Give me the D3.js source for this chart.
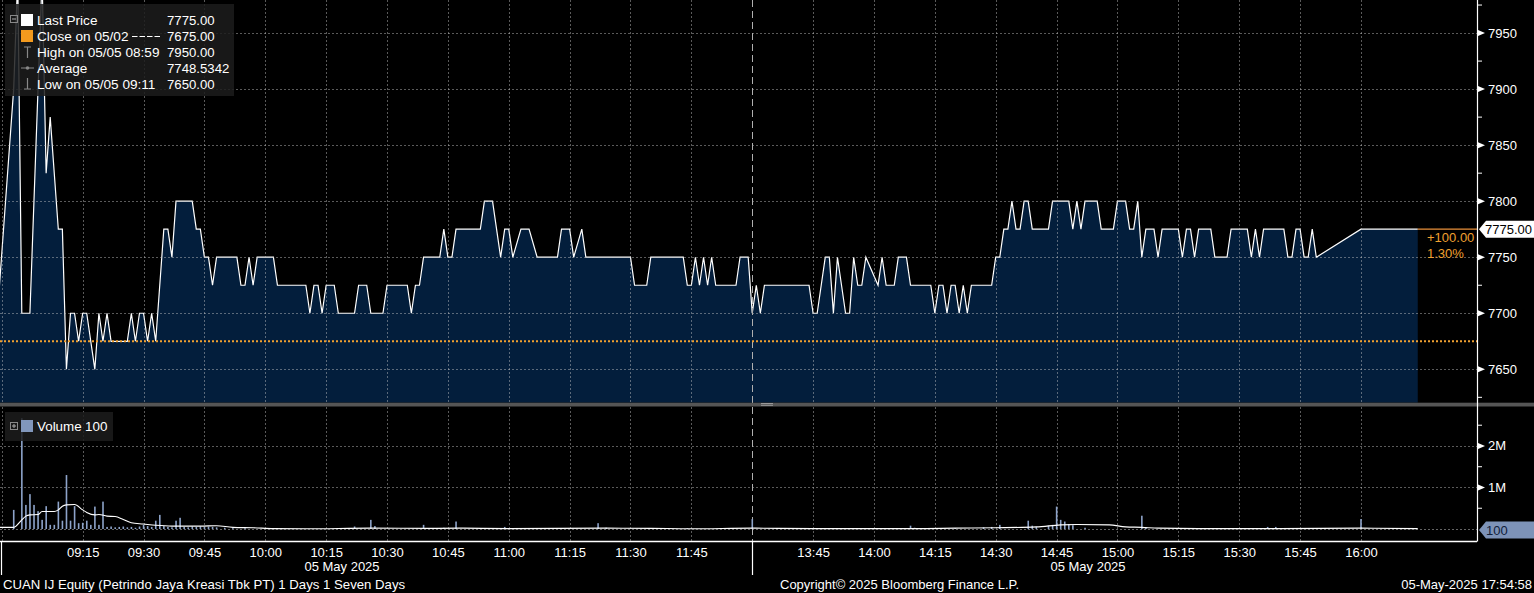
<!DOCTYPE html>
<html><head><meta charset="utf-8">
<script src="https://cdn.jsdelivr.net/npm/d3@7"></script>
<style>
html,body{margin:0;padding:0;background:#000;overflow:hidden}
svg{display:block}
text{font-family:"Liberation Sans",Arial,sans-serif;font-size:13px}
</style></head><body>
<svg id="c" width="1534" height="593"></svg>
<script>
// ---------------- DATA ----------------
// Price per minute (time, last price) - morning session
const priceAM = [
 ["08:54",7700],["08:58",7900],["08:59",8000],["09:00",7700],["09:01",7700],["09:02",7700],
 ["09:05",8000],["09:06",7825],["09:07",7875],["09:09",7775],["09:10",7775],["09:11",7650],
 ["09:12",7700],["09:13",7700],["09:14",7675],["09:15",7700],["09:16",7700],["09:18",7650],
 ["09:19",7700],["09:20",7675],["09:21",7700],["09:22",7675],["09:26",7675],["09:27",7700],
 ["09:28",7675],["09:29",7700],["09:30",7700],["09:31",7675],["09:32",7700],["09:33",7675],
 ["09:35",7775],["09:36",7775],["09:37",7750],["09:38",7800],["09:42",7800],["09:43",7775],
 ["09:44",7775],["09:45",7750],["09:46",7750],["09:47",7725],["09:48",7750],["09:53",7750],
 ["09:54",7725],["09:55",7725],["09:56",7750],["09:57",7725],["09:58",7750],["10:02",7750],
 ["10:03",7725],["10:10",7725],["10:11",7700],["10:12",7725],["10:13",7725],["10:14",7700],
 ["10:15",7725],["10:17",7725],["10:18",7700],["10:22",7700],["10:23",7725],["10:25",7725],
 ["10:26",7700],["10:29",7700],["10:30",7725],["10:35",7725],["10:36",7700],["10:37",7725],
 ["10:38",7725],["10:39",7750],["10:43",7750],["10:44",7775],["10:45",7750],["10:46",7750],
 ["10:47",7775],["10:53",7775],["10:54",7800],["10:56",7800],["10:58",7750],["10:59",7775],
 ["11:00",7775],["11:01",7750],["11:03",7775],["11:05",7775],["11:07",7750],["11:12",7750],
 ["11:13",7775],["11:15",7775],["11:16",7750],["11:18",7775],["11:19",7750],["11:30",7750],
 ["11:31",7725],["11:34",7725],["11:35",7750],["11:43",7750],["11:44",7725],["11:45",7725],
 ["11:46",7750],["11:47",7725],["11:48",7750],["11:49",7725],["11:50",7750],["11:51",7725],
 ["11:56",7725],["11:57",7750],["11:59",7750]
];
// afternoon session
const pricePM = [
 ["13:30",7700],["13:31",7725],["13:32",7700],["13:33",7725],["13:44",7725],["13:45",7700],
 ["13:46",7700],["13:48",7750],["13:49",7750],["13:50",7700],["13:51",7750],["13:53",7700],
 ["13:54",7700],["13:55",7750],["13:56",7725],["13:57",7725],["13:58",7750],["14:01",7725],
 ["14:02",7750],["14:03",7725],["14:05",7725],["14:06",7750],["14:08",7750],["14:09",7725],
 ["14:14",7725],["14:15",7700],["14:16",7725],["14:17",7725],["14:18",7700],["14:19",7725],
 ["14:20",7725],["14:21",7700],["14:22",7725],["14:23",7700],["14:24",7725],["14:25",7725],
 ["14:29",7725],["14:30",7750],["14:31",7750],["14:32",7775],["14:33",7775],["14:34",7800],
 ["14:35",7775],["14:36",7775],["14:37",7800],["14:38",7800],["14:39",7775],["14:43",7775],
 ["14:44",7800],["14:48",7800],["14:49",7775],["14:50",7800],["14:51",7775],["14:52",7800],
 ["14:55",7800],["14:56",7775],["14:59",7775],["15:00",7800],["15:02",7800],["15:03",7775],
 ["15:04",7775],["15:05",7800],["15:06",7750],["15:07",7775],["15:09",7775],["15:10",7750],
 ["15:11",7775],["15:15",7775],["15:16",7750],["15:17",7775],["15:18",7775],["15:19",7750],
 ["15:20",7775],["15:23",7775],["15:24",7750],["15:27",7750],["15:28",7775],["15:32",7775],
 ["15:33",7750],["15:34",7775],["15:35",7750],["15:36",7775],["15:41",7775],["15:42",7750],
 ["15:43",7750],["15:44",7775],["15:45",7775],["15:46",7750],["15:47",7750],["15:48",7775],
 ["15:49",7750],["16:00",7775],["16:14",7775]
];

const closePrev = 7675;
const lastPrice = 7775;
const priceTicks = [7650,7700,7750,7800,7850,7900,7950];
const priceMinorTicks = [7625,7725,7825,7875,7925,7975];

// Volume bars (time, shares)
const volumeBars = [
 ["08:58",460000],["09:00",2670000],["09:01",580000],["09:02",840000],["09:03",580000],["09:04",430000],
 ["09:05",220000],["09:06",550000],["09:07",100000],["09:08",100000],["09:09",660000],["09:10",200000],
 ["09:11",1300000],["09:12",200000],["09:13",550000],["09:14",140000],["09:15",150000],["09:16",200000],
 ["09:17",100000],["09:18",540000],["09:19",100000],["09:20",660000],["09:21",50000],["09:22",60000],
 ["09:23",40000],["09:24",50000],["09:25",60000],["09:26",40000],["09:27",50000],["09:28",30000],
 ["09:29",60000],["09:30",100000],["09:31",70000],["09:32",50000],["09:33",200000],["09:34",340000],
 ["09:35",70000],["09:36",50000],["09:37",40000],["09:38",200000],["09:39",270000],["09:40",50000],
 ["09:41",40000],["09:42",60000],["09:43",50000],["09:44",60000],["09:45",50000],["09:46",60000],
 ["09:47",50000],["09:48",40000],["09:50",30000],["09:52",20000],["09:55",20000],["10:02",20000],
 ["10:04",20000],["10:22",60000],["10:26",220000],["10:27",70000],["10:39",100000],["10:44",30000],
 ["10:47",180000],["10:59",50000],["11:22",140000],["11:24",30000],["11:44",20000],["13:30",240000],
 ["14:09",80000],["14:10",30000],["14:20",20000],["14:27",40000],["14:29",50000],["14:31",100000],
 ["14:38",200000],["14:39",80000],["14:40",50000],["14:43",80000],["14:44",100000],["14:45",540000],
 ["14:46",220000],["14:47",180000],["14:48",120000],["14:49",90000],["14:52",30000],["15:06",320000],
 ["15:07",40000],["15:37",50000],["15:39",50000],["16:00",240000]
];
// Volume moving average line (time, shares)
const volumeAvg = [
 ["08:54",40000],["08:58",40000],["09:00",220000],["09:01",310000],["09:02",340000],["09:04",350000],
 ["09:05",420000],["09:08",420000],["09:09",460000],["09:10",550000],["09:11",580000],["09:13",590000],
 ["09:15",460000],["09:16",400000],["09:18",340000],["09:19",350000],["09:21",310000],["09:23",300000],
 ["09:25",230000],["09:27",150000],["09:30",120000],["09:33",90000],["09:37",70000],["09:44",70000],
 ["09:48",80000],["09:52",40000],["09:57",30000],["10:02",10000],["10:10",5000],["10:26",20000],
 ["10:40",15000],["10:48",20000],["11:00",10000],["11:24",20000],["11:35",15000],["11:45",5000],
 ["13:30",20000],["13:45",10000],["14:10",10000],["14:20",20000],["14:30",30000],["14:40",50000],
 ["14:46",100000],["14:50",110000],["14:58",100000],["15:02",50000],["15:06",40000],["15:10",20000],
 ["15:20",10000],["15:40",10000],["16:00",20000],["16:14",10000]
];
const lastVolume = 100;
const volTicks = [1000000,2000000];
const volTickLabels = ["1M","2M"];
const volMinorTicks = [500000,1500000,2500000];

const xTickTimes = ["09:15","09:30","09:45","10:00","10:15","10:30","10:45","11:00","11:15","11:30","11:45","13:45","14:00","14:15","14:30","14:45","15:00","15:15","15:30","15:45","16:00"];
const breakTime = "13:30";

const legendLabels = ["Last Price","Close on 05/02","High on 05/05 08:59","Average","Low on 05/05 09:11"];
const legendValues = ["7775.00","7675.00","7950.00","7748.5342","7650.00"];
const changeText = ["+100.00","1.30%"];
const footerLeft = "CUAN IJ Equity (Petrindo Jaya Kreasi Tbk PT) 1 Days 1 Seven Days";
const footerMid = "Copyright\u00A9 2025 Bloomberg Finance L.P.";
const footerRight = "05-May-2025 17:54:58";
const dateLabel = "05 May 2025";

// ---------------- HELPERS ----------------
function sessionMin(s){
  const [h,m] = s.split(":").map(Number);
  const tm = h*60+m - 540;
  return (h*60+m) >= 810 ? tm - 90 : tm;   // afternoon session joined to morning
}
const W = 1534, H = 593;
const axisX = 1477;
const pTop = 0, pBot = 402.7;
const vTop = 407, vBot = 541.5;

const x = d3.scaleLinear().domain([-5.37, 358.6]).range([0, axisX]);
const y = d3.scaleLinear().domain([7620.2, 7979.5]).range([pBot, pTop]);
const yv = d3.scaleLinear().domain([0, 2.9e6]).range([529, 408.6]);

const svg = d3.select("#c");
svg.append("rect").attr("width",W).attr("height",H).attr("fill","#000");

const defs = svg.append("defs");
defs.append("clipPath").attr("id","pclip").append("rect").attr("x",0).attr("y",pTop).attr("width",axisX).attr("height",pBot-pTop);
defs.append("clipPath").attr("id","vclip").append("rect").attr("x",0).attr("y",vTop).attr("width",axisX).attr("height",vBot-vTop-1);

const price = priceAM.concat(pricePM).map(d=>({t:sessionMin(d[0]), v:d[1]}));

// area
const gP = svg.append("g").attr("clip-path","url(#pclip)");
gP.append("path").datum(price)
  .attr("d", d3.area().x(d=>x(d.t)).y0(pBot).y1(d=>y(d.v)))
  .attr("fill","#031e3c");

// grid
const gridCol = "rgba(200,200,200,0.45)";
const grid = svg.append("g");
priceTicks.forEach(v=>{
  grid.append("line").attr("x1",0).attr("x2",axisX).attr("y1",Math.round(y(v))+0.5).attr("y2",Math.round(y(v))+0.5)
    .attr("stroke",gridCol).attr("stroke-width",1).attr("stroke-dasharray","2,2");
});
volTicks.forEach(v=>{
  grid.append("line").attr("x1",0).attr("x2",axisX).attr("y1",Math.round(yv(v))+0.5).attr("y2",Math.round(yv(v))+0.5)
    .attr("stroke",gridCol).attr("stroke-width",1).attr("stroke-dasharray","2,2");
});
const vlines = xTickTimes.map(sessionMin).concat([-5]);
vlines.forEach(t=>{
  [[pTop,pBot],[vTop,vBot]].forEach(([a,b])=>{
    grid.append("line").attr("x1",Math.round(x(t))+0.5).attr("x2",Math.round(x(t))+0.5).attr("y1",a).attr("y2",b)
      .attr("stroke",gridCol).attr("stroke-width",1).attr("stroke-dasharray","2,2");
  });
});
// session break
const bx = Math.round(x(sessionMin(breakTime)))+0.5;
svg.append("line").attr("x1",bx).attr("x2",bx).attr("y1",0).attr("y2",vBot)
  .attr("stroke","#b0b0b0").attr("stroke-width",1).attr("stroke-dasharray","7,4");

// close line
svg.append("line").attr("x1",0).attr("x2",axisX).attr("y1",y(closePrev)).attr("y2",y(closePrev))
  .attr("stroke","#f0a030").attr("stroke-width",2).attr("stroke-dasharray","2,2");

// price line
gP.append("path").datum(price)
  .attr("d", d3.line().x(d=>x(d.t)).y(d=>y(d.v)))
  .attr("fill","none").attr("stroke","#ffffff").attr("stroke-width",1.2).attr("stroke-linejoin","miter");

// last price extension (orange)
const lastT = price[price.length-1].t;
svg.append("line").attr("x1",x(lastT)).attr("x2",axisX).attr("y1",y(lastPrice)).attr("y2",y(lastPrice))
  .attr("stroke","#e8903a").attr("stroke-width",1.2);

// separator band
svg.append("rect").attr("x",0).attr("y",402.7).attr("width",W).attr("height",3.8).attr("fill","#555");
svg.append("line").attr("x1",761).attr("x2",773).attr("y1",403.5).attr("y2",403.5).attr("stroke","#aaa").attr("stroke-width",0.8);
svg.append("line").attr("x1",761).attr("x2",773).attr("y1",405.3).attr("y2",405.3).attr("stroke","#aaa").attr("stroke-width",0.8);

// volume
const gV = svg.append("g").attr("clip-path","url(#vclip)");
const vols = volumeBars.map(d=>({t:sessionMin(d[0]), v:d[1]}));
gV.selectAll("rect.vb").data(vols).enter().append("rect")
  .attr("x",d=>x(d.t)-0.75).attr("width",1.6)
  .attr("y",d=>yv(d.v)).attr("height",d=>yv(0)-yv(d.v))
  .attr("fill","#8da3c9");
svg.append("line").attr("x1",0).attr("x2",axisX).attr("y1",yv(0)+0.5).attr("y2",yv(0)+0.5)
  .attr("stroke","rgba(200,200,200,0.5)").attr("stroke-dasharray","2,2");
const ma = volumeAvg.map(d=>({t:sessionMin(d[0]), v:d[1]}));
gV.append("path").datum(ma)
  .attr("d", d3.line().x(d=>x(d.t)).y(d=>yv(d.v)).curve(d3.curveMonotoneX))
  .attr("fill","none").attr("stroke","#ffffff").attr("stroke-width",1.1);

// right axis
svg.append("line").attr("x1",axisX+0.5).attr("x2",axisX+0.5).attr("y1",0).attr("y2",vBot)
  .attr("stroke","#fff").attr("stroke-width",1.2);
const ra = svg.append("g");
priceTicks.forEach(v=>{
  const yy = y(v);
  ra.append("path").attr("d",`M${axisX+1},${yy-3}L${axisX+8},${yy}L${axisX+1},${yy+3}Z`).attr("fill","#fff");
  ra.append("text").attr("x",axisX+11).attr("y",yy+4.5).attr("fill","#fff").text(v);
});
priceMinorTicks.forEach(v=>{
  ra.append("line").attr("x1",axisX+1).attr("x2",axisX+5).attr("y1",y(v)).attr("y2",y(v)).attr("stroke","#fff");
});
volTicks.forEach((v,i)=>{
  const yy = yv(v);
  ra.append("path").attr("d",`M${axisX+1},${yy-3}L${axisX+8},${yy}L${axisX+1},${yy+3}Z`).attr("fill","#fff");
  ra.append("text").attr("x",axisX+11).attr("y",yy+4.5).attr("fill","#fff").text(volTickLabels[i]);
});
volMinorTicks.forEach(v=>{
  ra.append("line").attr("x1",axisX+1).attr("x2",axisX+5).attr("y1",yv(v)).attr("y2",yv(v)).attr("stroke","#fff");
});

// last price tag
const ly = y(lastPrice);
ra.append("path").attr("d",`M${axisX+2},${ly}L${axisX+9},${ly-8.5}L${W},${ly-8.5}L${W},${ly+8.5}L${axisX+9},${ly+8.5}Z`).attr("fill","#fff");
ra.append("text").attr("x",axisX+8).attr("y",ly+5).attr("fill","#000").text(lastPrice.toFixed(2));
ra.append("text").attr("x",1427).attr("y",y(lastPrice)+13).attr("fill","#f0a030").text(changeText[0]);
ra.append("text").attr("x",1427).attr("y",y(lastPrice)+28.5).attr("fill","#f0a030").text(changeText[1]);

// last volume tag
const lvy = yv(lastVolume)+1;
ra.append("path").attr("d",`M${axisX+2},${lvy}L${axisX+9},${lvy-8.5}L${W},${lvy-8.5}L${W},${lvy+8.5}L${axisX+9},${lvy+8.5}Z`).attr("fill","#7d93b8");
ra.append("text").attr("x",axisX+9).attr("y",lvy+5).attr("fill","#10203a").text(lastVolume);

// bottom axis
svg.append("line").attr("x1",0).attr("x2",axisX).attr("y1",vBot).attr("y2",vBot).attr("stroke","#fff").attr("stroke-width",1.5);
svg.append("line").attr("x1",1.5).attr("x2",1.5).attr("y1",vBot).attr("y2",575).attr("stroke","#fff").attr("stroke-width",1.2);
svg.append("line").attr("x1",bx).attr("x2",bx).attr("y1",vBot).attr("y2",575).attr("stroke","#fff").attr("stroke-width",1.2);

const xAxis = d3.axisBottom(x).tickValues(xTickTimes.map(sessionMin))
  .tickFormat((d,i)=>xTickTimes[i]).tickSize(0).tickPadding(0);
const gx = svg.append("g").attr("transform",`translate(0,${vBot})`).call(xAxis);
gx.select(".domain").remove();
gx.selectAll("text").attr("fill","#fff").attr("dy",0).attr("y",15).style("font-size","13px").style("font-family","'Liberation Sans',Arial,sans-serif");

svg.append("text").attr("x",342).attr("y",571).attr("text-anchor","middle").attr("fill","#fff").text(dateLabel);
svg.append("text").attr("x",1088).attr("y",571).attr("text-anchor","middle").attr("fill","#fff").text(dateLabel);

svg.append("text").attr("x",3).attr("y",589).attr("fill","#fff").style("font-size","13.2px").text(footerLeft);
svg.append("text").attr("x",780).attr("y",589).attr("fill","#fff").text(footerMid);
svg.append("text").attr("x",1532).attr("y",589).attr("text-anchor","end").attr("fill","#fff").text(footerRight);

// price legend
const lg = svg.append("g");
lg.append("rect").attr("x",5).attr("y",4).attr("width",229).attr("height",92).attr("fill","#1c1c1c").attr("opacity",0.85);
lg.append("rect").attr("x",10.5).attr("y",15.5).attr("width",7).attr("height",7).attr("fill","none").attr("stroke","#888");
lg.append("line").attr("x1",12).attr("x2",16).attr("y1",19).attr("y2",19).attr("stroke","#aaa");
const rowY = [20,36,52,68,84];
lg.append("rect").attr("x",21).attr("y",rowY[0]-6).attr("width",12).attr("height",12).attr("fill","#fff");
lg.append("rect").attr("x",21).attr("y",rowY[1]-6).attr("width",12).attr("height",12).attr("fill","#f39a1e");
lg.append("path").attr("d",`M24,${rowY[2]-5}H31M27.5,${rowY[2]-5}V${rowY[2]+6}`).attr("stroke","#888").attr("stroke-width",1.2).attr("fill","none");
lg.append("path").attr("d",`M21,${rowY[3]}H34`).attr("stroke","#888").attr("stroke-width",1);
lg.append("circle").attr("cx",27.5).attr("cy",rowY[3]).attr("r",1.8).attr("fill","#888");
lg.append("path").attr("d",`M24,${rowY[4]+5}H31M27.5,${rowY[4]+5}V${rowY[4]-6}`).attr("stroke","#888").attr("stroke-width",1.2).attr("fill","none");
legendLabels.forEach((l,i)=>{
  lg.append("text").attr("x",37).attr("y",rowY[i]+4.5).attr("fill","#fff").style("font-size","13.6px").text(l);
  lg.append("text").attr("x",167).attr("y",rowY[i]+4.5).attr("fill","#fff").style("font-size","13.2px").text(legendValues[i]);
});
// dashed sample after "Close on 05/02"
lg.append("line").attr("x1",132).attr("x2",161).attr("y1",rowY[1]+0.5).attr("y2",rowY[1]+0.5)
  .attr("stroke","#fff").attr("stroke-width",1.2).attr("stroke-dasharray","5.5,2");

// volume legend
const vg = svg.append("g");
vg.append("rect").attr("x",5).attr("y",412).attr("width",108).attr("height",29).attr("fill","#1c1c1c").attr("opacity",0.85);
vg.append("rect").attr("x",10.5).attr("y",422.5).attr("width",7).attr("height",7).attr("fill","none").attr("stroke","#888");
vg.append("line").attr("x1",12).attr("x2",16).attr("y1",426).attr("y2",426).attr("stroke","#aaa");
vg.append("line").attr("x1",14).attr("x2",14).attr("y1",424).attr("y2",428).attr("stroke","#aaa");
vg.append("rect").attr("x",21).attr("y",420).attr("width",12).attr("height",12).attr("fill","#8197bc");
vg.append("text").attr("x",37).attr("y",431).attr("fill","#fff").style("font-size","13.4px").text("Volume");
vg.append("text").attr("x",85).attr("y",431).attr("fill","#fff").style("font-size","13.4px").text(lastVolume);
</script>
</body></html>
